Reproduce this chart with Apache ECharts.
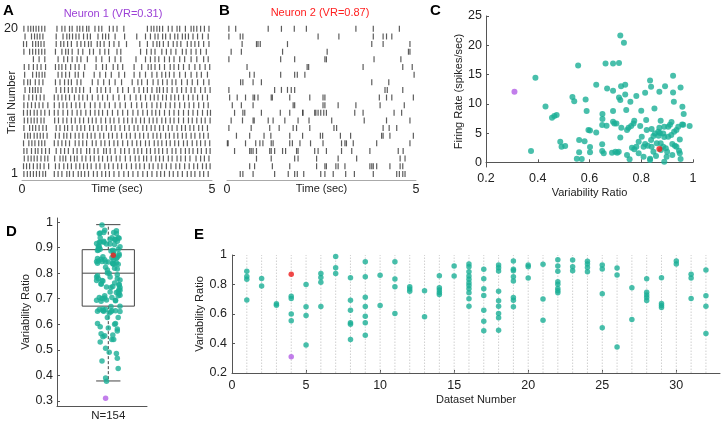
<!DOCTYPE html>
<html><head><meta charset="utf-8">
<script src="https://cdn.jsdelivr.net/npm/echarts@6/dist/echarts.min.js"></script>
<style>html,body{margin:0;padding:0;background:#fff}#c{width:723px;height:422px}</style>
</head><body><div id="c"></div><script>
// ---------- DATA ----------
// Panel A: spike times (s) per trial, trial 1 first
const rasterA = [
 [0.05,0.14,0.22,0.3,0.38,0.46,0.55,0.62,0.85,0.95,1.05,1.18,1.25,1.35,1.48,1.56,1.65,1.75,1.88,1.98,2.1,2.2,2.3,2.42,2.55,2.68,2.8,2.92,3.05,3.18,3.3,3.42,3.55,3.65,3.75,3.88,3.98,4.1,4.22,4.35,4.45,4.55,4.68,4.78,4.9],
 [0.04,0.12,0.2,0.3,0.4,0.48,0.58,0.7,0.88,0.98,1.1,1.2,1.3,1.42,1.52,1.62,1.72,1.82,1.95,2.05,2.18,2.28,2.4,2.52,2.62,2.75,2.88,3.0,3.1,3.22,3.35,3.45,3.58,3.68,3.8,3.92,4.05,4.15,4.28,4.4,4.52,4.62,4.75,4.85,4.95],
 [0.06,0.16,0.24,0.32,0.4,0.5,0.6,0.68,0.86,1.0,1.08,1.15,1.28,1.38,1.45,1.58,1.68,1.8,1.9,2.02,2.12,2.25,2.35,2.48,2.58,2.72,2.85,2.98,3.08,3.2,3.28,3.4,3.52,3.62,3.72,3.85,3.95,4.08,4.18,4.3,4.42,4.58,4.7,4.8,4.92],
 [0.05,0.13,0.25,0.35,0.42,0.52,0.62,0.72,0.9,1.02,1.12,1.22,1.35,1.45,1.55,1.7,1.78,1.9,2.0,2.15,2.22,2.32,2.45,2.6,2.7,2.82,2.95,3.05,3.15,3.28,3.38,3.5,3.6,3.7,3.82,3.95,4.05,4.18,4.3,4.4,4.5,4.62,4.72,4.85,4.95],
 [0.04,0.18,0.26,0.34,0.44,0.52,0.6,0.85,0.95,1.05,1.15,1.25,1.4,1.5,1.6,1.7,1.85,1.95,2.08,2.18,2.3,2.42,2.52,2.65,2.78,2.9,3.02,3.12,3.25,3.35,3.48,3.58,3.68,3.8,3.9,4.02,4.12,4.25,4.35,4.48,4.6,4.7,4.82,4.94],
 [0.07,0.15,0.22,0.32,0.4,0.48,0.56,0.66,0.88,0.98,1.1,1.18,1.28,1.4,1.5,1.6,1.72,1.82,1.92,2.05,2.15,2.28,2.38,2.5,2.62,2.75,2.85,2.98,3.1,3.2,3.32,3.45,3.55,3.65,3.78,3.88,4.0,4.1,4.22,4.32,4.45,4.55,4.68,4.78,4.9],
 [0.05,0.2,0.28,0.36,0.45,0.55,0.64,0.9,1.0,1.12,1.2,1.32,1.45,1.55,1.65,1.78,1.88,2.0,2.1,2.22,2.35,2.45,2.58,2.7,2.82,2.95,3.05,3.18,3.28,3.4,3.5,3.62,3.72,3.85,3.95,4.08,4.2,4.3,4.42,4.52,4.65,4.75,4.88],
 [0.06,0.15,0.24,0.32,0.4,0.5,0.58,0.86,0.96,1.08,1.18,1.3,1.4,1.52,1.62,1.75,1.85,1.95,2.08,2.2,2.32,2.42,2.55,2.68,2.78,2.9,3.0,3.12,3.22,3.35,3.45,3.55,3.68,3.78,3.9,4.0,4.12,4.25,4.38,4.48,4.6,4.72,4.82,4.95],
 [0.04,0.14,0.22,0.32,0.4,0.5,0.6,0.72,0.85,0.95,1.08,1.2,1.32,1.45,1.55,1.68,1.8,1.92,2.02,2.12,2.25,2.38,2.52,2.65,2.78,2.92,3.05,3.18,3.3,3.42,3.52,3.62,3.75,3.88,4.0,4.12,4.25,4.38,4.5,4.62,4.75,4.88,4.96],
 [0.05,0.15,0.25,0.35,0.45,0.55,0.68,0.85,0.98,1.08,1.18,1.3,1.42,1.52,1.65,1.8,1.92,2.05,2.18,2.3,2.45,2.58,2.72,2.88,3.02,3.15,3.28,3.42,3.55,3.65,3.78,3.9,4.02,4.15,4.28,4.4,4.52,4.65,4.78,4.9],
 [0.05,0.18,0.28,0.38,0.48,0.58,0.85,0.95,1.05,1.15,1.25,1.38,1.5,1.6,1.72,1.85,2.0,2.12,2.25,2.4,2.55,2.7,2.85,3.0,3.12,3.25,3.38,3.48,3.58,3.7,3.8,3.92,4.02,4.12,4.25,4.38,4.5,4.62,4.75,4.88],
 [0.08,0.2,0.28,0.35,0.42,0.5,0.9,1.02,1.12,1.22,1.32,1.42,1.52,1.62,1.8,1.98,2.08,2.2,2.32,2.52,2.65,2.8,2.95,3.08,3.2,3.3,3.42,3.55,3.62,3.72,3.82,3.95,4.08,4.2,4.32,4.45,4.55,4.7,4.82,4.95],
 [0.05,0.15,0.22,0.35,0.45,0.55,0.88,1.0,1.12,1.22,1.3,1.45,1.55,1.85,2.0,2.15,2.3,2.45,2.62,2.9,3.05,3.15,3.3,3.45,3.58,3.7,3.82,3.95,4.05,4.2,4.35,4.48,4.62,4.78,4.92],
 [0.07,0.28,0.38,0.45,0.53,0.6,0.95,1.05,1.15,1.25,1.4,1.48,1.62,1.9,2.05,2.2,2.35,2.55,2.7,2.95,3.1,3.25,3.42,3.55,3.68,3.78,3.88,4.0,4.15,4.3,4.45,4.6,4.72,4.88],
 [0.06,0.18,0.3,0.4,0.5,0.62,0.88,0.97,1.05,1.15,1.28,1.4,1.5,1.65,1.95,2.12,2.22,2.4,2.52,2.65,2.95,3.15,3.32,3.4,3.5,3.62,3.75,3.9,4.0,4.12,4.25,4.4,4.55,4.68,4.82,4.94],
 [0.3,0.45,0.6,0.95,1.1,1.2,1.32,1.45,1.55,1.72,1.95,2.1,2.3,2.45,2.6,3.0,3.25,3.38,3.5,3.6,3.75,3.88,4.0,4.15,4.28,4.45,4.6,4.78,4.9],
 [0.05,0.2,0.28,0.36,0.44,0.52,0.6,0.88,1.05,1.15,1.22,1.32,1.48,1.6,1.78,1.88,2.05,2.18,2.28,2.5,2.6,3.12,3.28,3.4,3.5,3.68,3.8,3.92,4.05,4.22,4.32,4.45,4.58,4.7,4.85],
 [0.04,0.12,0.28,0.36,0.43,0.5,0.58,0.9,1.02,1.1,1.2,1.3,1.45,1.55,1.65,1.75,1.82,1.98,2.06,2.16,2.3,2.42,2.55,2.75,3.1,3.3,3.45,3.55,3.62,3.72,3.85,3.98,4.08,4.18,4.35,4.45,4.55,4.65,4.78,4.92],
 [0.08,0.25,0.33,0.4,0.47,0.55,0.9,1.08,1.18,1.25,1.33,1.42,1.5,1.62,1.72,1.8,2.0,2.12,2.2,2.28,2.45,2.7,3.02,3.25,3.38,3.5,3.58,3.7,3.78,3.9,4.02,4.1,4.22,4.3,4.38,4.5,4.62,4.75,4.9],
 [0.05,0.16,0.23,0.3,0.37,0.44,0.52,0.6,0.92,1.05,1.13,1.25,1.32,1.45,1.52,1.6,1.7,1.76,1.92,2.02,2.1,2.3,2.4,2.5,2.68,3.3,3.4,3.47,3.55,3.62,3.7,3.85,3.95,4.08,4.15,4.3,4.45,4.52,4.6,4.7,4.8,4.92]
];
// Panel B: spike times (s) per trial, trial 1 first
const rasterB = [
 [0.35,0.42,0.69,1.26,1.62,1.79,1.86,2.03,2.48,2.59,2.81,3.14,3.37,3.87,4.49,4.56,4.65,4.71],
 [0.60,0.73,1.20,1.66,2.37,2.59,2.63,2.88,2.94,3.12,3.78,3.83,3.87,3.96,4.31,4.58,4.65],
 [0.78,1.17,1.79,1.88,2.37,2.94,3.43,4.58,4.71],
 [0.20,0.60,0.64,0.69,0.78,1.13,1.17,1.26,1.47,1.55,1.84,1.88,2.32,2.41,2.63,3.03,3.30,3.78,4.53,4.66],
 [0.01,0.03,0.49,0.76,0.87,0.95,1.17,1.22,1.66,1.73,1.93,2.21,2.54,3.03,3.12,3.16,3.34,3.96,4.84],
 [0.25,0.60,0.98,1.16,1.66,2.00,2.47,2.53,3.00,3.27,4.09,4.13,4.31,4.93],
 [0.05,0.64,1.13,1.38,1.75,1.84,2.19,2.83,2.90,4.13,4.29,4.49],
 [0.11,0.41,0.69,0.72,1.09,1.22,1.53,1.88,2.17,2.77,3.63,4.22,4.84],
 [0.20,0.42,0.47,0.91,1.41,1.66,2.00,2.01,2.32,2.35,2.41,2.48,2.56,2.63,3.38,3.60,4.42,4.62],
 [0.14,0.38,0.69,1.75,1.79,2.54,2.59,2.94,3.41,4.05,4.69],
 [0.07,0.27,0.49,0.69,0.73,0.82,1.17,1.20,1.66,2.19,2.54,2.59,4.03,4.22,4.36,4.93],
 [0.05,1.26,1.44,1.60,1.70,1.79,4.18,4.24,4.65],
 [0.36,0.42,0.69,0.91,3.83,4.28],
 [0.60,0.72,1.42,1.79,1.86,2.06,4.95],
 [0.53,2.12,2.16,3.60,4.65,4.90],
 [0.05,1.42,1.79,2.59,2.63,3.89,4.60],
 [0.11,0.38,1.47,2.65,4.80,4.84],
 [0.40,0.78,0.82,0.88,1.60,3.83,4.13,4.84],
 [0.05,0.35,0.42,2.41,2.96,3.87,4.13,4.22,4.36],
 [0.05,0.23,1.09,1.44,1.78,2.10,3.41,3.87,4.56]
];
// Panel C: variability ratio vs firing rate (spikes/sec)
const cVR = [0.374,0.391,0.43,0.455,0.464,0.473,0.487,0.492,0.506,0.534,0.541,0.556,0.56,0.56,0.551,0.57,0.581,0.585,0.589,0.596,0.602,0.602,0.602,0.626,0.626,0.65,0.65,0.649,0.649,0.649,0.655,0.662,0.666,0.668,0.691,0.691,0.691,0.691,0.696,0.704,0.687,0.70,0.707,0.713,0.714,0.714,0.719,0.719,0.723,0.722,0.719,0.733,0.738,0.738,0.742,0.745,0.751,0.745,0.755,0.758,0.761,0.77,0.773,0.764,0.773,0.781,0.79,0.796,0.80,0.802,0.809,0.815,0.819,0.815,0.821,0.825,0.834,0.838,0.84,0.838,0.834,0.834,0.84,0.847,0.847,0.851,0.853,0.857,0.86,0.867,0.87,0.87,0.872,0.875,0.875,0.876,0.885,0.889,0.889,0.892,0.889,0.895,0.898,0.904,0.904,0.911,0.916,0.917,0.92,0.92,0.923,0.923,0.926,0.927,0.93,0.936,0.936,0.943,0.946,0.949,0.949,0.952,0.952,0.958,0.959,0.964,0.962,0.987,0.866,0.809,0.79,0.781,0.885,0.90];
const cFR = [1.93,14.43,9.55,7.6,7.9,8.07,3.52,2.67,2.78,11.14,10.45,16.53,3.8,1.7,0.63,0.57,3.58,10.74,8.75,5.51,5.45,2.61,1.7,13.24,5.11,8.24,7.39,6.36,3.07,1.93,1.53,16.88,6.25,12.61,16.88,12.22,8.75,6.93,6.65,6.65,1.65,1.82,1.65,1.82,16.99,11.08,10.63,4.26,5.91,13.01,21.65,20.45,13.24,11.59,8.92,5.51,5.91,1.25,0.51,10.34,6.19,6.65,7.1,2.5,2.22,11.31,1.53,6.19,8.81,4.38,0.97,11.88,7.22,3.13,5.51,2.84,13.98,3.8,5.68,12.9,0.63,0.4,2.67,4.49,1.82,9.2,4.94,1.08,3.24,4.55,12.05,5.91,5.0,3.24,7.1,2.1,4.94,4.32,0.11,13.01,6.08,2.39,0.97,4.38,6.08,6.42,4.66,6.88,3.13,1.25,14.77,11.93,10.34,5.23,2.84,2.67,5.51,6.08,1.99,3.92,1.53,0.57,12.78,6.48,9.49,8.24,6.42,6.19,5.22,2.67,3.52,2.67,2.67,1.82];
// Panel E: dataset number and variability ratio per neuron (also used in D)
const eDataset = [1,1,1,1, 2,2, 3,3, 4,4,4,4, 5,5,5,5, 6,6,6,6, 7,7,7, 8,8,8,8,8,8, 9,9,9,9,9,9,9, 10,10, 11,11,11,11, 12,12,12, 13,13, 14,14,14,14,14, 15,15,
 16,16,16,16,16,16,16,16,16,16,16, 17,17,17,17,17,17,17, 18,18,18,18,18,18,18,18,18, 19,19,19,19,19,19,19,19, 20,20,20, 21,21,21,
 22,22,22,22,22,22,22,22, 23,23,23, 24,24,24,24, 25,25,25,25, 26,26,26, 27,27, 28,28,28,28,28, 29,29,29,29, 30,30, 31,31,31, 32,32,32,32];
const eVR = [0.89,0.855,0.835,0.695, 0.84,0.79, 0.67,0.66, 0.72,0.705,0.60,0.555, 0.80,0.65,0.59,0.39, 0.875,0.848,0.816,0.651, 0.989,0.914,0.875,
 0.846,0.694,0.626,0.54,0.531,0.427, 0.955,0.853,0.714,0.651,0.585,0.54,0.456, 0.862,0.658, 0.955,0.837,0.785,0.603, 0.785,0.769,0.755,
 0.758,0.581, 0.86,0.778,0.762,0.746,0.733, 0.925,0.857, 0.939,0.921,0.887,0.857,0.835,0.812,0.794,0.771,0.744,0.703,0.653,
 0.903,0.839,0.771,0.726,0.626,0.551,0.486, 0.932,0.914,0.891,0.755,0.69,0.653,0.603,0.574,0.49, 0.959,0.903,0.894,0.853,0.823,0.712,0.694,0.649,
 0.932,0.921,0.844, 0.937,0.701,0.558, 0.968,0.925,0.889,0.819,0.801,0.773,0.758,0.744, 0.966,0.921,0.894, 0.957,0.939,0.916,0.887,
 0.932,0.905,0.737,0.506, 0.912,0.864,0.377, 0.778,0.563, 0.839,0.748,0.728,0.712,0.692, 0.846,0.671,0.658,0.644, 0.959,0.939,
 0.869,0.844,0.705, 0.898,0.724,0.653,0.467];
// Panel D: horizontal jitter of each neuron's point
const dJitter = [0.05,-0.08,0.11,-0.02, 0.09,-0.12, 0.03,-0.06, 0.12,-0.1,0.07,-0.04, 0.01,0.13,-0.09,-0.03, 0.06,-0.11,0.1,-0.05, -0.07,0.02,0.12,
 -0.13,0.08,-0.01,0.04,-0.09,0.11, 0.09,-0.04,0.13,-0.12,0.0,0.06,-0.07, 0.1,-0.03, -0.1,0.05,-0.13,0.08, 0.02,-0.06,0.12, -0.08,0.1,
 0.04,-0.11,0.07,-0.02,0.13, -0.05,0.09, 0.11,-0.09,0.03,-0.12,0.06,-0.01,0.1,-0.07,0.13,-0.04,0.08, -0.1,0.05,-0.13,0.02,0.11,-0.06,0.09,
 0.07,-0.02,-0.11,0.12,-0.08,0.04,-0.12,0.1,0.01, -0.05,0.13,-0.09,0.06,-0.03,0.11,-0.13,0.03, 0.08,-0.1,0.0, 0.12,-0.07,0.05,
 -0.04,0.1,-0.12,0.07,-0.01,0.13,-0.08,0.03, 0.09,-0.05,0.11, -0.09,0.04,-0.13,0.06, 0.02,-0.11,0.12,-0.03, 0.07,-0.06,-0.02, 0.1,-0.08,
 -0.12,0.05,0.11,-0.04,0.08, -0.07,0.13,-0.1,0.01, 0.06,-0.09, 0.12,-0.03,0.04, -0.11,0.09,-0.06,0.1];
// Highlighted neurons
const neuron1 = {dataset: 4, vr: 0.31, fr: 12.05, jitter: -0.03};
const neuron2 = {dataset: 4, vr: 0.87, fr: 2.27, jitter: 0.055};
// Panel D box plot summary: [lower whisker, Q1, median, Q3, upper whisker]
const boxStats = [0.378, 0.671, 0.80, 0.892, 0.99];
const nLabel = 'N=154';
// Tick values
const ticksCy = [0,5,10,15,20,25];
const ticksCx = [0.2,0.4,0.6,0.8,1];
const ticksDy = [0.3,0.4,0.5,0.6,0.7,0.8,0.9,1];
const ticksEx = [0,5,10,15,20,25,30];
const ticksEy = [0.2,0.4,0.6,0.8,1];

// ---------- CHART ----------
const FONT = '"Liberation Sans", Arial, Helvetica, sans-serif';
const TEAL = '#1aaf96', PURPLE = '#b35ee6', RED = '#ee1c1c';
const AX = '#555', TXT = '#222';
const fmt = v => Math.abs(v - 1) < 1e-9 ? '1' : (Math.abs(v) < 1e-9 ? '0' : (Number.isInteger(v) ? String(v) : v.toFixed(1)));

function rasterData(rows) { const out = []; rows.forEach((r, i) => r.forEach(t => out.push([t, i + 1]))); return out; }
const datasetNumbers = Array.from(new Set(eDataset)).sort((a, b) => a - b);

const lbl = {fontFamily: FONT, fontSize: 12.5, color: TXT};
const nameStyle = {fontFamily: FONT, fontSize: 11, color: TXT};
const NM = {nameLocation: 'middle', nameMoveOverlap: false, nameTextStyle: nameStyle};

const chart = echarts.init(document.getElementById('c'), null, {renderer: 'canvas'});
const option = {
  animation: false,
  backgroundColor: '#fff',
  textStyle: {fontFamily: FONT},
  grid: [
    {left: 22, top: 25, width: 190, height: 155},
    {left: 227, top: 25, width: 189, height: 155},
    {left: 486, top: 16, width: 207, height: 151},
    {left: 57, top: 218, width: 90, height: 189},
    {left: 232, top: 255, width: 488, height: 118}
  ],
  xAxis: [
    Object.assign({gridIndex: 0, type: 'value', min: 0, max: 5, axisLine: {lineStyle: {color: '#aaa'}}, axisTick: {show: false}, splitLine: {show: false},
     axisLabel: Object.assign({customValues: [0, 5], margin: 3}, lbl), name: 'Time (sec)', nameGap: 3}, NM),
    Object.assign({gridIndex: 1, type: 'value', min: 0, max: 5, axisLine: {lineStyle: {color: '#aaa'}}, axisTick: {show: false}, splitLine: {show: false},
     axisLabel: Object.assign({customValues: [0, 5], margin: 3}, lbl), name: 'Time (sec)', nameGap: 3}, NM),
    Object.assign({gridIndex: 2, type: 'value', min: 0.2, max: 1, axisLine: {lineStyle: {color: AX}}, axisTick: {inside: true, length: 3, customValues: ticksCx, lineStyle: {color: AX}}, splitLine: {show: false},
     axisLabel: Object.assign({customValues: ticksCx, margin: 5, formatter: fmt}, lbl), name: 'Variability Ratio', nameGap: 20}, NM),
    {gridIndex: 3, type: 'value', min: 0.43, max: 1.43, axisLine: {lineStyle: {color: AX}}, axisTick: {show: false}, splitLine: {show: false},
     axisLabel: Object.assign({customValues: [1], margin: 4, formatter: () => nLabel}, lbl, {fontSize: 11.5})},
    Object.assign({gridIndex: 4, type: 'value', min: 0, max: 32.95, axisLine: {lineStyle: {color: AX}}, axisTick: {inside: true, length: 3, customValues: ticksEx, lineStyle: {color: AX}}, splitLine: {show: false},
     axisLabel: Object.assign({customValues: ticksEx, margin: 6, formatter: fmt}, lbl), name: 'Dataset Number', nameGap: 21}, NM)
  ],
  yAxis: [
    Object.assign({gridIndex: 0, type: 'value', min: 0.2, max: 20.5, axisLine: {show: false}, axisTick: {show: false}, splitLine: {show: false},
     axisLabel: Object.assign({customValues: [1, 20], margin: 4}, lbl), name: 'Trial Number', nameGap: 5}, NM),
    {gridIndex: 1, type: 'value', min: 0.2, max: 20.5, show: false},
    Object.assign({gridIndex: 2, type: 'value', min: -0.8, max: 25, axisLine: {show: true, lineStyle: {color: AX}}, axisTick: {show: true, inside: true, length: 3, customValues: ticksCy, lineStyle: {color: AX}}, splitLine: {show: false},
     axisLabel: Object.assign({customValues: ticksCy, margin: 4, formatter: fmt}, lbl), name: 'Firing Rate (spikes/sec)', nameGap: 22}, NM),
    Object.assign({gridIndex: 3, type: 'value', min: 0.28, max: 1.016, axisLine: {show: true, lineStyle: {color: AX}}, axisTick: {show: true, inside: true, length: 3, customValues: ticksDy, lineStyle: {color: AX}}, splitLine: {show: false},
     axisLabel: Object.assign({customValues: ticksDy, margin: 4, formatter: fmt}, lbl), name: 'Variability Ratio', nameGap: 26}, NM),
    Object.assign({gridIndex: 4, type: 'value', min: 0.2, max: 1, axisLine: {show: true, lineStyle: {color: AX}}, axisTick: {show: true, inside: true, length: 3, customValues: ticksEy, lineStyle: {color: AX}}, splitLine: {show: false},
     axisLabel: Object.assign({customValues: ticksEy, margin: 5, formatter: fmt}, lbl), name: 'Variability Ratio', nameGap: 27}, NM)
  ],
  graphic: [
    {type: 'text', x: 3, y: 3, style: {text: 'A', font: 'bold 15px ' + FONT, fill: '#000'}},
    {type: 'text', x: 219, y: 3, style: {text: 'B', font: 'bold 15px ' + FONT, fill: '#000'}},
    {type: 'text', x: 430, y: 3, style: {text: 'C', font: 'bold 15px ' + FONT, fill: '#000'}},
    {type: 'text', x: 6, y: 224, style: {text: 'D', font: 'bold 15px ' + FONT, fill: '#000'}},
    {type: 'text', x: 194, y: 227, style: {text: 'E', font: 'bold 15px ' + FONT, fill: '#000'}},
    {type: 'text', x: 113, y: 14, style: {text: 'Neuron 1 (VR=0.31)', font: '11px ' + FONT, fill: '#9b3fd6', align: 'center', verticalAlign: 'middle'}},
    {type: 'text', x: 320, y: 13, style: {text: 'Neuron 2 (VR=0.87)', font: '11px ' + FONT, fill: '#ff1f1f', align: 'center', verticalAlign: 'middle'}}
  ],
  series: [
    {type: 'scatter', xAxisIndex: 0, yAxisIndex: 0, symbol: 'rect', symbolSize: [1.2, 6], itemStyle: {color: '#333'}, silent: true, data: rasterData(rasterA)},
    {type: 'scatter', xAxisIndex: 1, yAxisIndex: 1, symbol: 'rect', symbolSize: [1.2, 6], itemStyle: {color: '#333'}, silent: true, data: rasterData(rasterB)},
    {type: 'scatter', xAxisIndex: 2, yAxisIndex: 2, symbolSize: 6, itemStyle: {color: TEAL}, data: cVR.map((v, i) => [v, cFR[i]])},
    {type: 'scatter', xAxisIndex: 2, yAxisIndex: 2, symbolSize: 6, itemStyle: {color: PURPLE}, data: [[neuron1.vr, neuron1.fr]]},
    {type: 'scatter', xAxisIndex: 2, yAxisIndex: 2, symbolSize: 6, itemStyle: {color: RED}, data: [[neuron2.vr, neuron2.fr]]},
    {type: 'custom', xAxisIndex: 3, yAxisIndex: 3, silent: true, z: 1,
     data: [[1].concat(boxStats)],
     renderItem: function (params, api) {
       const x = api.value(0);
       const lo = api.value(1), q1 = api.value(2), med = api.value(3), q3 = api.value(4), hi = api.value(5);
       const half = api.size([0.58, 0])[0] / 2, cap = api.size([0.27, 0])[0] / 2;
       const pLo = api.coord([x, lo]), pQ1 = api.coord([x, q1]), pMed = api.coord([x, med]), pQ3 = api.coord([x, q3]), pHi = api.coord([x, hi]);
       const st = {stroke: '#444', lineWidth: 1, fill: null};
       const dash = {stroke: '#444', lineWidth: 1, lineDash: [3, 2]};
       return {type: 'group', children: [
         {type: 'rect', shape: {x: pQ3[0] - half, y: pQ3[1], width: 2 * half, height: pQ1[1] - pQ3[1]}, style: st},
         {type: 'line', shape: {x1: pMed[0] - half, y1: pMed[1], x2: pMed[0] + half, y2: pMed[1]}, style: st},
         {type: 'line', shape: {x1: pQ3[0], y1: pQ3[1], x2: pHi[0], y2: pHi[1]}, style: dash},
         {type: 'line', shape: {x1: pQ1[0], y1: pQ1[1], x2: pLo[0], y2: pLo[1]}, style: dash},
         {type: 'line', shape: {x1: pHi[0] - cap, y1: pHi[1], x2: pHi[0] + cap, y2: pHi[1]}, style: st},
         {type: 'line', shape: {x1: pLo[0] - cap, y1: pLo[1], x2: pLo[0] + cap, y2: pLo[1]}, style: st}
       ]};
     }},
    {type: 'scatter', xAxisIndex: 3, yAxisIndex: 3, symbolSize: 5.5, z: 3, itemStyle: {color: TEAL}, data: eVR.map((v, i) => [1 + dJitter[i], v])},
    {type: 'scatter', xAxisIndex: 3, yAxisIndex: 3, symbolSize: 5.5, z: 3, itemStyle: {color: PURPLE}, data: [[1 + neuron1.jitter, neuron1.vr]]},
    {type: 'scatter', xAxisIndex: 3, yAxisIndex: 3, symbolSize: 5.5, z: 3, itemStyle: {color: RED}, data: [[1 + neuron2.jitter, neuron2.vr]]},
    {type: 'custom', xAxisIndex: 4, yAxisIndex: 4, silent: true, z: 1,
     data: datasetNumbers.map(d => [d]),
     renderItem: function (params, api) {
       const p1 = api.coord([api.value(0), 0.2]), p2 = api.coord([api.value(0), 1]);
       return {type: 'line', shape: {x1: p1[0], y1: p1[1], x2: p2[0], y2: p2[1]}, style: {stroke: '#c4c4c4', lineWidth: 0.8, lineDash: [1.5, 1.5]}};
     }},
    {type: 'scatter', xAxisIndex: 4, yAxisIndex: 4, symbolSize: 5.5, z: 3, itemStyle: {color: TEAL}, data: eVR.map((v, i) => [eDataset[i], v])},
    {type: 'scatter', xAxisIndex: 4, yAxisIndex: 4, symbolSize: 5.5, z: 3, itemStyle: {color: PURPLE}, data: [[neuron1.dataset, neuron1.vr]]},
    {type: 'scatter', xAxisIndex: 4, yAxisIndex: 4, symbolSize: 5.5, z: 3, itemStyle: {color: RED}, data: [[neuron2.dataset, neuron2.vr]]}
  ]
};
chart.setOption(option);
</script></body></html>
